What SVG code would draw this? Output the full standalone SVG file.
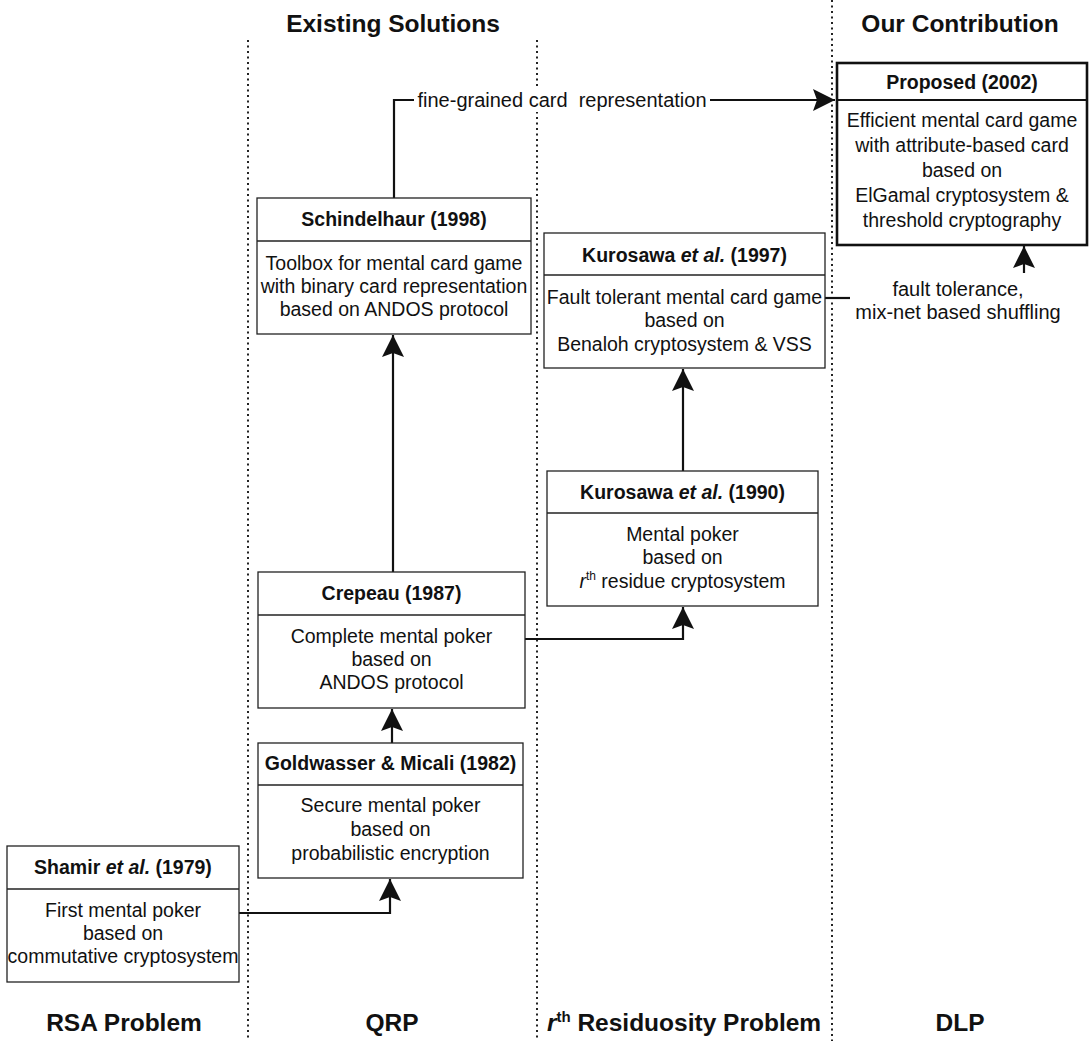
<svg xmlns="http://www.w3.org/2000/svg" width="1089" height="1041" viewBox="0 0 1089 1041">
<style>
  .box { fill: #ffffff; stroke: #222222; stroke-width: 1.3; }
  .boxb { fill: #ffffff; stroke: #111111; stroke-width: 2.6; }
  .div { stroke: #222222; stroke-width: 1.3; }
  .divb { stroke: #111111; stroke-width: 2; }
  .hdr { font-family: "Liberation Sans", Arial, sans-serif; font-size: 19.5px; font-weight: bold; fill: #111111; text-anchor: middle; }
  .txt { font-family: "Liberation Sans", Arial, sans-serif; font-size: 19.5px; fill: #111111; text-anchor: middle; }
  .col { font-family: "Liberation Sans", Arial, sans-serif; font-size: 24.5px; font-weight: bold; fill: #111111; text-anchor: middle; }
  .lbl { font-family: "Liberation Sans", Arial, sans-serif; font-size: 20px; fill: #111111; text-anchor: middle; white-space: pre; }
  .conn { fill: none; stroke: #111111; stroke-width: 2.2; }
  .dot { stroke: #222222; stroke-width: 2; stroke-dasharray: 2 3.5; }
</style>
<defs>
  <marker id="arr" markerUnits="userSpaceOnUse" markerWidth="24" markerHeight="22" refX="22" refY="11" orient="auto">
    <path d="M0,0 L22,11 L0,22 L4,11 z" fill="#111111"/>
  </marker>
</defs>
<rect width="1089" height="1041" fill="#ffffff"/>

<g id="column-dividers">
  <line class="dot" x1="248" y1="40" x2="248" y2="1041"/>
  <line class="dot" x1="537" y1="40" x2="537" y2="1041"/>
  <line class="dot" x1="832" y1="0" x2="832" y2="1041"/>
</g>

<g id="column-titles">
  <text class="col" x="393" y="32">Existing Solutions</text>
  <text class="col" x="960" y="32">Our Contribution</text>
  <text class="col" x="124" y="1031">RSA Problem</text>
  <text class="col" x="392" y="1031">QRP</text>
  <text class="col" x="684" y="1031"><tspan font-style="italic">r</tspan><tspan font-size="15" dy="-9">th</tspan><tspan dy="9"> Residuosity Problem</tspan></text>
  <text class="col" x="960" y="1031">DLP</text>
</g>

<g id="connectors">
  <path class="conn" d="M394,198 V100 H835" marker-end="url(#arr)"/>
  <rect x="414" y="88" width="296" height="24" fill="#ffffff"/>
  <text class="lbl" x="562" y="107" xml:space="preserve">fine-grained card  representation</text>
  <path class="conn" d="M393,572 V335" marker-end="url(#arr)"/>
  <path class="conn" d="M392,743 V709" marker-end="url(#arr)"/>
  <path class="conn" d="M239,913 H390 V879" marker-end="url(#arr)"/>
  <path class="conn" d="M525,639 H683 V607" marker-end="url(#arr)"/>
  <path class="conn" d="M683,471 V369" marker-end="url(#arr)"/>
  <path class="conn" d="M825,298 H850"/>
  <path class="conn" d="M1024,273 V246" marker-end="url(#arr)"/>
  <text class="lbl" x="958" y="296">fault tolerance,</text>
  <text class="lbl" x="958" y="319">mix-net based shuffling</text>
</g>

<g id="node-proposed">
  <rect class="boxb" x="837" y="63" width="250" height="182"/>
  <line class="divb" x1="837" y1="100" x2="1087" y2="100"/>
  <text class="hdr" x="962" y="89">Proposed (2002)</text>
  <text class="txt" x="962" y="127">Efficient mental card game</text>
  <text class="txt" x="962" y="152">with attribute-based card</text>
  <text class="txt" x="962" y="177">based on</text>
  <text class="txt" x="962" y="202">ElGamal cryptosystem &amp;</text>
  <text class="txt" x="962" y="227">threshold cryptography</text>
</g>

<g id="node-schindelhaur">
  <rect class="box" x="257" y="198" width="274" height="136"/>
  <line class="div" x1="257" y1="241" x2="531" y2="241"/>
  <text class="hdr" x="394" y="226">Schindelhaur (1998)</text>
  <text class="txt" x="394" y="270">Toolbox for mental card game</text>
  <text class="txt" x="394" y="293">with binary card representation</text>
  <text class="txt" x="394" y="316">based on ANDOS protocol</text>
</g>

<g id="node-kurosawa-1997">
  <rect class="box" x="544" y="233" width="281" height="135"/>
  <line class="div" x1="544" y1="275" x2="825" y2="275"/>
  <text class="hdr" x="684.5" y="262">Kurosawa <tspan font-style="italic">et al.</tspan> (1997)</text>
  <text class="txt" x="684.5" y="304">Fault tolerant mental card game</text>
  <text class="txt" x="684.5" y="327">based on</text>
  <text class="txt" x="684.5" y="351">Benaloh cryptosystem &amp; VSS</text>
</g>

<g id="node-kurosawa-1990">
  <rect class="box" x="547" y="471" width="271" height="135"/>
  <line class="div" x1="547" y1="513" x2="818" y2="513"/>
  <text class="hdr" x="682.5" y="499">Kurosawa <tspan font-style="italic">et al.</tspan> (1990)</text>
  <text class="txt" x="682.5" y="541">Mental poker</text>
  <text class="txt" x="682.5" y="564">based on</text>
  <text class="txt" x="682.5" y="588"><tspan font-style="italic">r</tspan><tspan font-size="12" dy="-8">th</tspan><tspan dy="8"> residue cryptosystem</tspan></text>
</g>

<g id="node-crepeau">
  <rect class="box" x="258" y="572" width="267" height="136"/>
  <line class="div" x1="258" y1="615" x2="525" y2="615"/>
  <text class="hdr" x="391.5" y="600">Crepeau (1987)</text>
  <text class="txt" x="391.5" y="643">Complete mental poker</text>
  <text class="txt" x="391.5" y="666">based on</text>
  <text class="txt" x="391.5" y="689">ANDOS protocol</text>
</g>

<g id="node-goldwasser">
  <rect class="box" x="258" y="743" width="265" height="135"/>
  <line class="div" x1="258" y1="785" x2="523" y2="785"/>
  <text class="hdr" x="390.5" y="770">Goldwasser &amp; Micali (1982)</text>
  <text class="txt" x="390.5" y="812">Secure mental poker</text>
  <text class="txt" x="390.5" y="836">based on</text>
  <text class="txt" x="390.5" y="860">probabilistic encryption</text>
</g>

<g id="node-shamir">
  <rect class="box" x="7" y="846" width="232" height="136"/>
  <line class="div" x1="7" y1="889" x2="239" y2="889"/>
  <text class="hdr" x="123" y="874">Shamir <tspan font-style="italic">et al.</tspan> (1979)</text>
  <text class="txt" x="123" y="917">First mental poker</text>
  <text class="txt" x="123" y="940">based on</text>
  <text class="txt" x="123" y="963">commutative cryptosystem</text>
</g>
</svg>
